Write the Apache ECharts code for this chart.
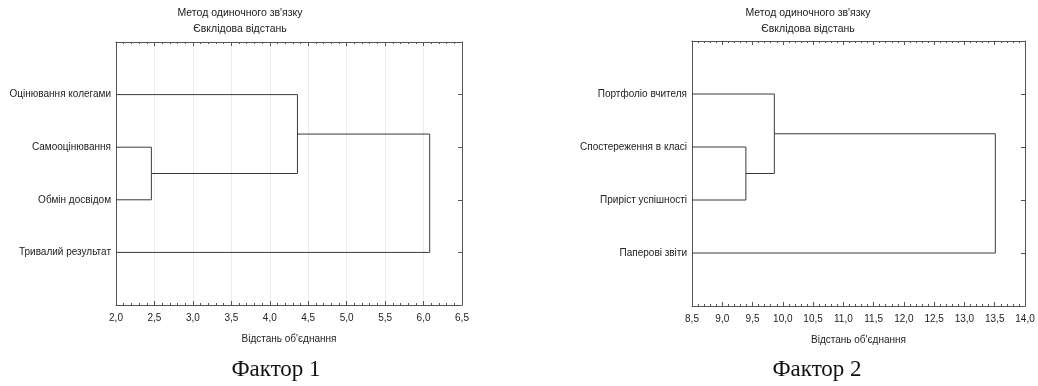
<!DOCTYPE html>
<html><head><meta charset="utf-8">
<script src="https://cdn.jsdelivr.net/npm/echarts@6/dist/echarts.min.js"></script>
<style>html,body{margin:0;padding:0;background:#fff}#c{width:1038px;height:386px}</style>
</head><body><div id="c"></div>
<script>
// ---- data ----
const titleLine1 = "Метод одиночного зв'язку";
const titleLine2 = "Євклідова відстань";
const axisTitle = "Відстань об'єднання";
const captions = ["Фактор 1", "Фактор 2"];

const labels1 = ["Оцінювання колегами", "Самооцінювання", "Обмін досвідом", "Тривалий результат"];
// merges: [nodeA, nodeB, distance]; leaves 0..3, new clusters 4,5,6
const merges1 = [[1, 2, 2.46], [0, 4, 4.36], [5, 3, 6.08]];
const xRange1 = [2.0, 6.5];

const labels2 = ["Портфоліо вчителя", "Спостереження в класі", "Приріст успішності", "Паперові звіти"];
const merges2 = [[1, 2, 9.39], [0, 4, 9.86], [5, 3, 13.51]];
const xRange2 = [8.5, 14.0];

// ---- build ----
function buildLinks(labels, merges, xmin) {
  const nodes = labels.map((l, i) => ({ y: i + 1, x: xmin }));
  const segs = [];
  merges.forEach(m => {
    const a = nodes[m[0]], b = nodes[m[1]], d = m[2];
    segs.push([[a.x, a.y], [d, a.y], [d, b.y], [b.x, b.y]]);
    nodes.push({ y: (a.y + b.y) / 2, x: d });
  });
  return segs;
}
const fmt = v => v.toFixed(1).replace('.', ',');
const gridDefs = [
  { left: 116, top: 42, width: 346, height: 263 },
  { left: 692, top: 41, width: 333, height: 265 }
];
const sets = [
  { labels: labels1, merges: merges1, range: xRange1, grid: true },
  { labels: labels2, merges: merges2, range: xRange2, grid: false }
];
const axisColor = '#555';
const lineColor = '#3a3a3a';
const xAxes = [], yAxes = [], series = [];
sets.forEach((s, gi) => {
  xAxes.push({
    type: 'value', gridIndex: gi, position: 'bottom', min: s.range[0], max: s.range[1], interval: 0.5,
    name: axisTitle, nameLocation: 'middle', nameGap: 29,
    nameTextStyle: { fontFamily: 'Liberation Sans', fontSize: 10, color: '#222' },
    axisLine: { show: true, onZero: false, lineStyle: { color: axisColor, width: 1 } },
    axisTick: { show: true, inside: true, length: 4, lineStyle: { color: axisColor } },
    minorTick: { show: true, splitNumber: 5, length: 2, lineStyle: { color: axisColor } },
    axisLabel: { formatter: fmt, fontFamily: 'Liberation Sans', fontSize: 10, color: '#222', margin: 8 },
    splitLine: { show: s.grid, lineStyle: { color: '#ececec', width: 1 } }
  });
  xAxes.push({
    type: 'value', gridIndex: gi, position: 'top', min: s.range[0], max: s.range[1], interval: 0.5,
    axisLine: { show: true, onZero: false, lineStyle: { color: axisColor, width: 1 } },
    axisTick: { show: true, inside: true, length: 4, lineStyle: { color: axisColor } },
    minorTick: { show: true, splitNumber: 5, length: 2, lineStyle: { color: axisColor } },
    axisLabel: { show: false }, splitLine: { show: false }
  });
  yAxes.push({
    type: 'value', gridIndex: gi, position: 'left', min: 0, max: 5, interval: 1, inverse: true,
    axisLine: { show: true, onZero: false, lineStyle: { color: axisColor, width: 1 } },
    axisTick: { show: false },
    axisLabel: {
      fontFamily: 'Liberation Sans', fontSize: 10, color: '#222', margin: 5,
      formatter: v => (v >= 1 && v <= s.labels.length) ? s.labels[v - 1] : ''
    },
    splitLine: { show: false }
  });
  yAxes.push({
    type: 'value', gridIndex: gi, position: 'right', min: 0, max: 5, interval: 1, inverse: true,
    axisLine: { show: true, onZero: false, lineStyle: { color: axisColor, width: 1 } },
    axisTick: { show: true, inside: true, length: 4, customValues: [1, 2, 3, 4], lineStyle: { color: axisColor } },
    axisLabel: { show: false }, splitLine: { show: false }
  });
  buildLinks(s.labels, s.merges, s.range[0]).forEach(seg => {
    series.push({
      type: 'line', xAxisIndex: gi * 2, yAxisIndex: gi * 2, data: seg,
      symbol: 'none', animation: false, silent: true,
      lineStyle: { color: lineColor, width: 1 }
    });
  });
});

const textEl = (t, x, y, size, family, color) => ({
  type: 'text', x: x, y: y,
  style: { text: t, textAlign: 'center', textVerticalAlign: 'middle', font: size + 'px "' + family + '"', fill: color }
});
const graphics = [
  textEl(titleLine1, 240, 13, 10.5, 'Liberation Sans', '#222'),
  textEl(titleLine2, 240, 29, 10.5, 'Liberation Sans', '#222'),
  textEl(titleLine1, 808, 13, 10.5, 'Liberation Sans', '#222'),
  textEl(titleLine2, 808, 29, 10.5, 'Liberation Sans', '#222'),
  textEl(captions[0], 276, 370, 23, 'Liberation Serif', '#111'),
  textEl(captions[1], 817, 370, 23, 'Liberation Serif', '#111')
];

const chart = echarts.init(document.getElementById('c'), null, { renderer: 'canvas' });
chart.setOption({
  backgroundColor: '#fff', animation: false,
  grid: gridDefs,
  xAxis: xAxes, yAxis: yAxes, series: series,
  graphic: graphics
});
</script></body></html>
